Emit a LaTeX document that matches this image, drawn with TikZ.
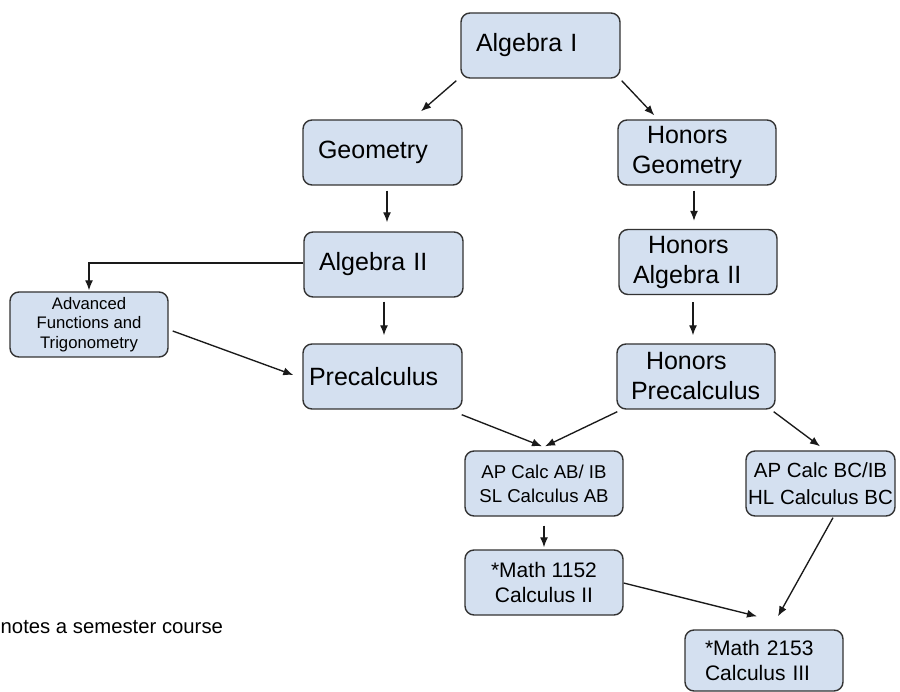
\documentclass[tikz,border=0pt]{standalone}
\usepackage{fontspec}
\setmainfont{Liberation Sans}
\usetikzlibrary{arrows.meta,calc}
\definecolor{boxfill}{HTML}{D4E0F0}
\definecolor{boxline}{HTML}{333333}
\definecolor{arrline}{HTML}{1A1A1A}
\begin{document}
\begin{tikzpicture}[x=1pt,y=-1pt,
  box/.style={draw=boxline,fill=boxfill,line width=1.4pt,rounded corners=9pt,
    minimum width=159pt,minimum height=65pt,inner ysep=0pt},
  bigl/.style={box,font=\fontsize{25}{30}\selectfont,align=left,inner xsep=15pt,text width=129pt},
  arr/.style={draw=arrline,line width=1.35pt,-{Latex[length=10pt,width=8pt]}}]
\useasboundingbox (0,0) rectangle (900,692);

\node[bigl] (alg1) at (540.5,45.5) {Algebra I};
\node[bigl] (geo) at (382.5,152.5) {Geometry};
\node[bigl,minimum width=158pt,inner xsep=14pt,text width=130pt] (hgeo) at (697,152.5) {\hspace*{15pt}Honors\\Geometry};
\node[bigl] (alg2) at (383.5,264.5) {Algebra II};
\node[bigl,minimum width=158pt,inner xsep=14pt,text width=130pt] (halg2) at (698,262) {\hspace*{15pt}Honors\\Algebra II};
\node[box,minimum width=158pt,font=\fontsize{16.7}{19.5}\selectfont,align=center] (aft) at (89,324.5) {Advanced\\Functions and\\Trigonometry};
\node[bigl,inner xsep=6pt,text width=147pt] (pre) at (382.5,376.5) {Precalculus};
\node[bigl,minimum width=158pt,inner xsep=14pt,text width=130pt] (hpre) at (696,376.5) {\hspace*{15pt}Honors\\Precalculus};
\node[box,minimum width=158pt,font=\fontsize{18.6}{24}\selectfont,align=center] (ab) at (544,483.5) {AP Calc AB/ IB\\SL Calculus AB};
\node[box,minimum width=149pt,inner xsep=1pt,font=\fontsize{20.5}{27}\selectfont,align=center] (bc) at (820.5,483.5) {AP Calc BC/IB\\HL Calculus BC};
\node[box,minimum width=158pt,font=\fontsize{21}{25}\selectfont,align=center] (m1152) at (544,582.5) {*Math 1152\\Calculus II};
\node[box,minimum width=158pt,minimum height=61pt,font=\fontsize{21}{25}\selectfont,align=left,inner xsep=20pt,text width=118pt] (m2153) at (764,660.5) {*Math 2153\\Calculus III};
\node[anchor=base west,inner sep=0pt,font=\fontsize{20.3}{24}\selectfont] (note) at (0.5,633) {notes a semester course};

\draw[arr] ($(alg1.south west)+(-4,2)$) -- ($(geo.north)+(38.5,-8)$);
\draw[arr] ($(alg1.south east)+(1,2)$) -- ($(hgeo.north west)+(37,-4)$);
\draw[arr] ($(geo.south)+(4.5,5)$) -- ($(alg2.north)+(3.5,-9)$);
\draw[arr] ($(hgeo.south)+(-3,5)$) -- ($(halg2.north)+(-4,-8)$);
\draw[arr] ($(alg2.west)+(0,-1.5)$) -| ($(aft.north)+(0,-1)$);
\draw[arr] ($(alg2.south)+(0.5,4)$) -- ($(pre.north)+(1.5,-8)$);
\draw[arr] ($(aft.east)+(4,6.5)$) -- ($(pre.west)+(-9,-1.5)$);
\draw[arr] ($(halg2.south)+(-5,7)$) -- ($(hpre.north)+(-3,-8)$);
\draw[arr] ($(pre.south east)+(-1,5)$) -- ($(ab.north)+(-2,-4)$);
\draw[arr] ($(hpre.south west)+(1,2)$) -- ($(ab.north)+(1,-4)$);
\draw[arr] ($(hpre.south east)+(-2,2)$) -- ($(bc.north)+(-0.5,-4)$);
\draw[arr] ($(ab.south)+(0,9)$) -- ($(m1152.north)+(0,-2)$);
\draw[arr] ($(m1152.east)+(0,0.5)$) -- ($(m2153.north)+(-7,-13)$);
\draw[arr] ($(bc.south)+(12.5,1)$) -- ($(m2153.north)+(14,-13)$);
\end{tikzpicture}
\end{document}
